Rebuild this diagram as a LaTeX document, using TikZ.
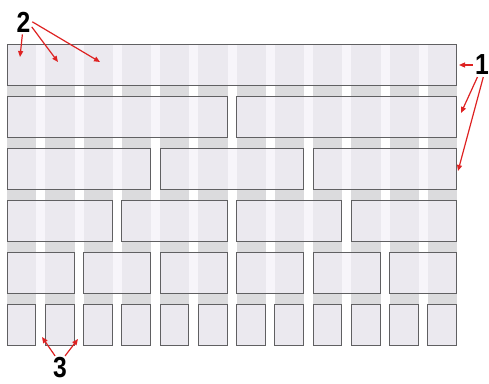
\documentclass[tikz,border=0pt]{standalone}
\usepackage{graphicx}
\usepackage{fontspec}
\newfontfamily\markfont{Liberation Sans}
\definecolor{gridgray}{RGB}{219,219,221}
\definecolor{boxfill}{RGB}{243,240,248}
\definecolor{boxline}{RGB}{96,96,98}
\definecolor{markred}{RGB}{222,34,34}
\usetikzlibrary{arrows.meta,positioning}

\begin{document}
\begin{tikzpicture}[
  x=1pt, y=-1pt,
  colstripe/.style={fill=gridgray,draw=none},
  gridbox/.style={draw=boxline,line width=1pt,fill=boxfill,fill opacity=0.69},
  marknum/.style={font=\markfont\bfseries\fontsize{29}{29}\selectfont,inner sep=0pt,text=black},
  markarrow/.style={draw=markred,line width=1.2pt,shorten <=2pt,-{Triangle[length=6pt,width=5pt]}},
]
  \useasboundingbox (0,0) rectangle (489,383);
  % Column stripes
  \foreach \i in {0,...,11}
    \path[colstripe] ({7+38.25*\i},44) rectangle ++(29.25,301);
  % Rows of boxes: columns per box / row
  \foreach \cols/\r in {12/0,6/1,4/2,3/3,2/4,1/5}{
    \pgfmathtruncatemacro\nbox{12/\cols}
    \foreach \k in {1,...,\nbox}
      \draw[gridbox] ({7+(\k-1)*\cols*38.25},{44+52*\r}) rectangle ++({(\cols-1)*38.25+28.75},41);
  }
  % Labels
  \node[marknum] (two) at (23.5,22) {\scalebox{0.85}[1]{2}};
  \node[marknum] (one) at (482,65) {\scalebox{0.85}[1]{1}};
  \node[marknum] (three) at (60,368) {\scalebox{0.85}[1]{3}};
  % Arrow tips
  \coordinate (t2a) at (20,57);
  \coordinate (t2b) at (58,62);
  \coordinate (t2c) at (100,62);
  \coordinate (t1a) at (459,65);
  \coordinate (t1b) at (461,113);
  \coordinate (t1c) at (458,171);
  \coordinate (t3a) at (42,337);
  \coordinate (t3b) at (78,339);
  % Arrows
  \draw[markarrow] (two.-95) -- (t2a);
  \draw[markarrow] (two.-25) -- (t2b);
  \draw[markarrow] (two.10) -- (t2c);
  \draw[markarrow] (one.west) -- (t1a);
  \draw[markarrow] (one.-110) -- (t1b);
  \draw[markarrow] (one.-80) -- (t1c);
  \draw[markarrow] (three.110) -- (t3a);
  \draw[markarrow] (three.70) -- (t3b);
\end{tikzpicture}
\end{document}
